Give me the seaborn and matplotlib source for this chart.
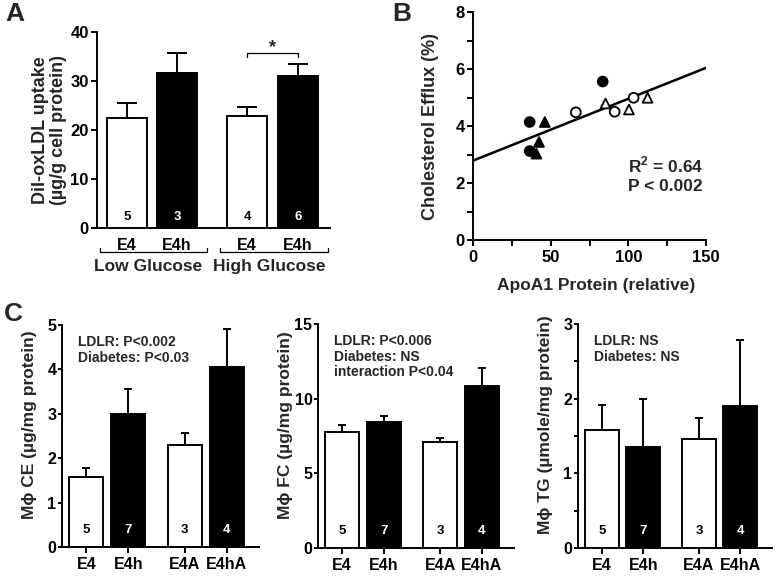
'''
Macrophage lipid figure: oxLDL uptake (A), efflux vs ApoA1 (B),
and macrophage CE / FC / TG content (C).
'''
import matplotlib
matplotlib.use('Agg')
import matplotlib.pyplot as plt
import matplotlib.transforms as mtransforms
import numpy as np
import pandas as pd
import seaborn as sns

# panel A - DiI-oxLDL uptake
a_labels = ['E4', 'E4h', 'E4', 'E4h']
a_pos = [0, 1, 2.4, 3.42]
a_fill = ['white', 'black', 'white', 'black']
a_mean = [22.4, 31.6, 22.8, 31.1]
a_err = [3.2, 4.2, 1.8, 2.3]
a_n = ['5', '3', '4', '6']
a_groups = ['Low Glucose', 'High Glucose']

# panel B - cholesterol efflux vs ApoA1
b_apoa1 = [36.5, 36.5, 83.5, 46.2, 42.5, 40.8, 66.2, 91.2, 103.4, 85.3, 100.4, 112.4]
b_efflux = [4.14, 3.12, 5.56, 4.14, 3.44, 3.03, 4.48, 4.50, 4.99, 4.79, 4.58, 4.99]
b_fill = ['filled', 'filled', 'filled', 'filled', 'filled', 'filled',
          'open', 'open', 'open', 'open', 'open', 'open']
b_shape = ['circle', 'circle', 'circle', 'triangle', 'triangle', 'triangle',
           'circle', 'circle', 'circle', 'triangle', 'triangle', 'triangle']

# panel C - macrophage lipids
c_labels = ['E4', 'E4h', 'E4A', 'E4hA']
c_pos = [0, 1, 2.35, 3.35]
c_fill = ['white', 'black', 'white', 'black']
c_n = ['5', '7', '3', '4']
ce_mean = [1.58, 3.00, 2.30, 4.06]
ce_err = [0.20, 0.56, 0.26, 0.84]
fc_mean = [7.76, 8.42, 7.07, 10.83]
fc_err = [0.50, 0.40, 0.30, 1.24]
tg_mean = [1.58, 1.35, 1.46, 1.90]
tg_err = [0.33, 0.65, 0.28, 0.89]

sns.set_theme(style='ticks')
plt.rcParams['font.family'] = ['Liberation Sans', 'DejaVu Sans']
plt.rcParams['font.weight'] = 'bold'
plt.rcParams['axes.labelweight'] = 'bold'
plt.rcParams['axes.linewidth'] = 1.4
plt.rcParams['xtick.major.width'] = 1.4
plt.rcParams['ytick.major.width'] = 1.4
plt.rcParams['xtick.major.size'] = 4
plt.rcParams['ytick.major.size'] = 4
plt.rcParams['xtick.color'] = 'black'
plt.rcParams['ytick.color'] = 'black'
plt.rcParams['axes.edgecolor'] = 'black'
plt.rcParams['mathtext.fontset'] = 'custom'
plt.rcParams['mathtext.rm'] = 'Liberation Sans:bold'
plt.rcParams['mathtext.bf'] = 'Liberation Sans:bold'

W, H = 775, 576
BOLD = 'bold'


def rect(left, top, right, bottom):
    """pixel box -> figure fraction"""
    return [left / W, 1 - bottom / H, (right - left) / W, (bottom - top) / H]


def bold_ticks(ax, size):
    for lbl in ax.get_xticklabels() + ax.get_yticklabels():
        lbl.set_fontweight(BOLD)
        lbl.set_fontsize(size)


def draw_bars(ax, pos, fill, mean, err, n, width, capsize, n_y):
    df = pd.DataFrame({'pos': pos, 'mean': mean, 'fill': fill})
    sns.barplot(data=df, x='pos', y='mean', hue='fill',
                palette={'white': 'white', 'black': 'black'},
                native_scale=True, width=width, errorbar=None,
                edgecolor='black', linewidth=1.4, legend=False, ax=ax)
    ax.errorbar(pos, mean, yerr=[np.zeros(len(err)), err], fmt='none',
                ecolor='black', elinewidth=1.4, capsize=capsize,
                capthick=1.4, zorder=1)
    trans = mtransforms.blended_transform_factory(ax.transData, ax.transAxes)
    for p, f, lab in zip(pos, fill, n):
        ax.text(p, n_y, lab, transform=trans, ha='center', va='center',
                color='white' if f == 'black' else 'black', fontsize=9.5,
                fontweight=BOLD)
    sns.despine(ax=ax)
    ax.set_xlabel('')


fig = plt.figure(figsize=(7.75, 5.76), dpi=100)

# ---- A
ax = fig.add_axes(rect(97, 32, 330, 228))
draw_bars(ax, a_pos, a_fill, a_mean, a_err, a_n, 0.8, 7, 0.055)
ax.set_xlim(-0.6, 4.06)
ax.set_ylim(0, 40)
ax.set_yticks([0, 10, 20, 30, 40])
ax.set_xticks(a_pos, a_labels)
bold_ticks(ax, 12)
for lbl in ax.get_xticklabels():
    lbl.set_fontsize(11.5)
ax.tick_params(axis='x', length=0, pad=7)
ax.tick_params(axis='y', pad=2)
ax.set_ylabel('DiI-oxLDL uptake\n(µg/g cell protein)', fontsize=13,
              fontweight=BOLD, linespacing=1.05)
ax.yaxis.set_label_coords(-0.13, 0.5)
trans = mtransforms.blended_transform_factory(ax.transData, ax.transAxes)
for (x0, x1), lab in zip([(-0.54, 1.6), (1.86, 4.02)], a_groups):
    ax.plot([x0, x0, x1, x1], [-0.10, -0.122, -0.122, -0.10], color='black',
            lw=0.9, transform=trans, clip_on=False)
    ax.text((x0 + x1) / 2 - 0.1, -0.195, lab, transform=trans, ha='center',
            va='center', fontsize=12.5, fontweight=BOLD)
ax.plot([a_pos[2], a_pos[2], a_pos[3], a_pos[3]], [34.8, 35.8, 35.8, 34.8],
        color='black', lw=0.9)
ax.text((a_pos[2] + a_pos[3]) / 2, 35.0, '*', ha='center', va='bottom',
        fontsize=13, fontweight=BOLD)
fig.text(5 / W, 1 - 2 / H, 'A', fontsize=19, fontweight=BOLD,
         va='top', ha='left')

# ---- B
ax = fig.add_axes(rect(473, 12, 706, 240))
dfb = pd.DataFrame({'apoa1': b_apoa1, 'efflux': b_efflux,
                    'fill': b_fill, 'shape': b_shape})
ax.set_xlim(0, 150)
ax.set_ylim(0, 8)
sns.regplot(data=dfb, x='apoa1', y='efflux', scatter=False, ci=None,
            truncate=False, color='black', line_kws={'lw': 1.8}, ax=ax)
sns.scatterplot(data=dfb, x='apoa1', y='efflux', hue='fill', style='shape',
                palette={'filled': 'black', 'open': 'white'},
                markers={'circle': 'o', 'triangle': '^'}, s=50,
                edgecolor='black', linewidth=1.3, legend=False, ax=ax,
                zorder=3)
ax.set_xlim(0, 150)
ax.set_ylim(0, 8)
ax.set_xticks(np.arange(0, 151, 25))
ax.set_xticklabels(['0', '', '50', '', '100', '', '150'])
ax.set_yticks(np.arange(0, 9, 1))
ax.set_yticklabels(['0', '', '2', '', '4', '', '6', '', '8'])
bold_ticks(ax, 12)
ax.tick_params(axis='y', pad=2)
sns.despine(ax=ax)
ax.set_xlabel('ApoA1 Protein (relative)', fontsize=12.5, fontweight=BOLD)
ax.set_ylabel('Cholesterol Efflux (%)', fontsize=13, fontweight=BOLD)
ax.xaxis.set_label_coords(0.53, -0.165)
ax.yaxis.set_label_coords(-0.145, 0.5)
ax.text(100, 3.0, 'R$^{2}$ = 0.64\nP < 0.002', va='top', ha='left',
        fontsize=12.5, fontweight=BOLD, linespacing=1.3)
fig.text(392 / W, 1 - 2 / H, 'B', fontsize=19, fontweight=BOLD,
         va='top', ha='left')

# ---- C
c_panels = [
    (rect(62, 325, 259, 547), ce_mean, ce_err, 5, [0, 1, 2, 3, 4, 5], None,
     'Mϕ CE (µg/mg protein)', 'LDLR: P<0.002\nDiabetes: P<0.03'),
    (rect(318, 324, 514, 548), fc_mean, fc_err, 15, [0, 5, 10, 15], None,
     'Mϕ FC (µg/mg protein)', 'LDLR: P<0.006\nDiabetes: NS\ninteraction P<0.04'),
    (rect(578, 324, 772, 548), tg_mean, tg_err, 3, [0, 0.5, 1, 1.5, 2, 2.5, 3],
     ['0', '', '1', '', '2', '', '3'],
     'Mϕ TG (µmole/mg protein)', 'LDLR: NS\nDiabetes: NS'),
]
for box, mean, err, ymax, yt, ytl, ylab, note in c_panels:
    ax = fig.add_axes(box)
    draw_bars(ax, c_pos, c_fill, mean, err, c_n, 0.82, 3, 0.075)
    ax.set_xlim(-0.58, 4.12)
    ax.set_ylim(0, ymax)
    ax.set_yticks(yt)
    if ytl is not None:
        ax.set_yticklabels(ytl)
    ax.set_xticks(c_pos, c_labels)
    bold_ticks(ax, 11.5)
    ax.tick_params(axis='y', length=3, pad=1)
    ax.tick_params(axis='x', length=4, pad=3)
    ax.set_ylabel(ylab, fontsize=12.5, fontweight=BOLD)
    ax.yaxis.set_label_coords(-0.128, 0.55)
    ax.text(0.08, 0.955, note, transform=ax.transAxes, va='top', ha='left',
            fontsize=10, fontweight=BOLD, linespacing=1.15)
fig.text(4 / W, 1 - 302 / H, 'C', fontsize=19, fontweight=BOLD,
         va='top', ha='left')

fig.savefig('out.png', dpi=100)
